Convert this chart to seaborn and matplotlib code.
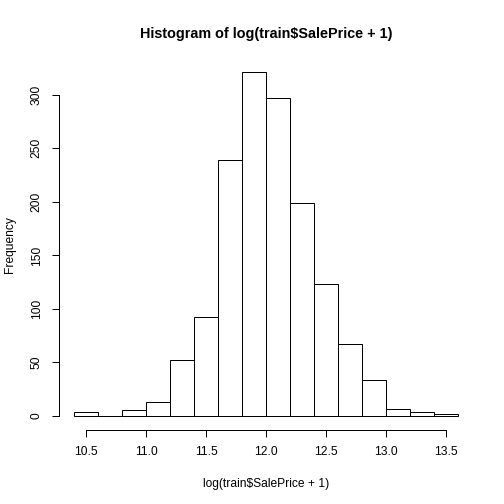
import numpy as np
import matplotlib
matplotlib.use("Agg")
import matplotlib.pyplot as plt
import seaborn as sns

# bin edges and counts
bin_edges = [10.4, 10.6, 10.8, 11.0, 11.2, 11.4, 11.6, 11.8, 12.0,
             12.2, 12.4, 12.6, 12.8, 13.0, 13.2, 13.4, 13.6]
counts = [4, 0, 6, 13, 52, 92, 239, 321, 297, 199, 123, 67, 34, 7, 4, 2]
x_ticks = [10.5, 11.0, 11.5, 12.0, 12.5, 13.0, 13.5]
y_ticks = [0, 50, 100, 150, 200, 250, 300]

mids = [(a + b) / 2 for a, b in zip(bin_edges[:-1], bin_edges[1:])]

sns.set_style("white")
plt.rcParams['font.family'] = ['Liberation Sans', 'DejaVu Sans']
plt.rcParams.update({"text.color": "black", "axes.labelcolor": "black",
                     "xtick.color": "black", "ytick.color": "black"})

fig = plt.figure(figsize=(7, 7), dpi=72)
ax = fig.add_axes([0.1163, 0.1473, 0.9393 - 0.1163, 0.8839 - 0.1473])

sns.histplot(x=mids, weights=counts, bins=bin_edges, ax=ax,
             color="white", edgecolor="black", linewidth=1.0, alpha=1)

ax.set_xlim(10.272, 13.728)
ax.set_ylim(-12.84, 333.84)

for s in ["top", "right"]:
    ax.spines[s].set_visible(False)
ax.spines["left"].set_bounds(0, 300)
ax.spines["bottom"].set_bounds(10.5, 13.5)
for s in ["left", "bottom"]:
    ax.spines[s].set_color("black")
    ax.spines[s].set_linewidth(1.0)

ax.set_xticks(x_ticks)
ax.set_xticklabels([f"{v:.1f}" for v in x_ticks])
ax.set_yticks(y_ticks)
ax.set_yticklabels([str(v) for v in y_ticks], rotation=90, va="center")
ax.tick_params(axis="both", direction="out", length=7, width=1.0,
               color="black", labelcolor="black", labelsize=12, pad=9,
               bottom=True, left=True)

ax.set_xlabel("log(train$SalePrice + 1)", fontsize=12, labelpad=20,
              color="black")
ax.set_ylabel("Frequency", fontsize=12, labelpad=15, color="black")
fig.suptitle("Histogram of log(train$SalePrice + 1)", fontsize=14.4,
             fontweight="bold", color="black",
             x=(0.1163 + 0.9393) / 2, y=0.946)

fig.savefig("out.png", dpi=72, facecolor="white")
